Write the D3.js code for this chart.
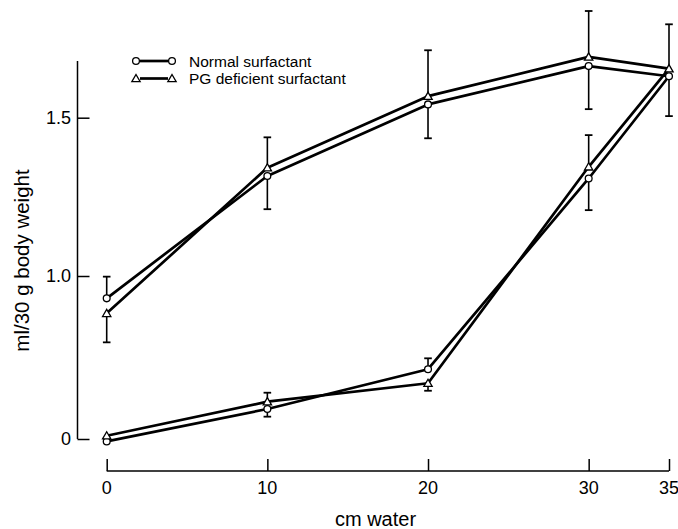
<!DOCTYPE html>
<html><head><meta charset="utf-8">
<script src="https://cdn.jsdelivr.net/npm/d3@7"></script>
<style>html,body{margin:0;padding:0;background:#fff;}svg{display:block;}</style>
</head><body>
<svg id="chart" width="678" height="529"></svg>
<script>
const pressures = [0, 10, 20, 30, 35];
const xTicks = [0, 10, 20, 30, 35];
const yTicks = [0, 1.0, 1.5];
const yTickLabels = ["0", "1.0", "1.5"];
const seriesNames = ["Normal surfactant", "PG deficient surfactant"];
// inflation limb (lower curve), by pressure
const normalInfl = [-0.015, 0.184, 0.428, 1.308, 1.631];
const pgInfl     = [0.02, 0.229, 0.342, 1.345, 1.655];
// deflation limb (upper curve), by pressure
const normalDefl = [0.863, 1.316, 1.542, 1.663, 1.631];
const pgDefl     = [0.771, 1.342, 1.568, 1.692, 1.655];
// standard errors
const normalInflErr = [0, 0.047, 0.067, 0.10, 0];
const pgInflErr     = [0, 0.055, 0.046, 0.10, 0];
const normalDeflErr = [0.133, 0.105, 0.107, 0.136, 0.126];
const pgDeflErr     = [0.178, 0.096, 0.145, 0.145, 0.14];

const svg = d3.select("#chart");
const FONT = "'Liberation Sans', Arial, Helvetica, sans-serif";
const x = d3.scaleLinear().domain([0, 35]).range([106.7, 669]);
const y = d3.scaleLinear().domain([0, 1.0, 1.5]).range([439, 276, 117.7]);

// Y axis
const yAxisX = 77.5;
svg.append("line").attr("x1", yAxisX).attr("x2", yAxisX).attr("y1", 61).attr("y2", y(0))
  .attr("stroke", "#000").attr("stroke-width", 1.5);
const yAx = d3.axisRight(y).tickValues(yTicks).tickSize(12).tickFormat((d, i) => "");
const gy = svg.append("g").attr("transform", `translate(${yAxisX},0)`).call(yAx);
gy.select(".domain").remove();
gy.selectAll(".tick line").attr("stroke", "#000").attr("stroke-width", 1.5);
yTicks.forEach((t, i) => {
  svg.append("text").attr("x", 71).attr("y", y(t)).attr("dy", "0.35em")
    .attr("text-anchor", "end").attr("font-family", FONT).attr("font-size", 18)
    .text(yTickLabels[i]);
});

// X axis
const xAxisY = 471;
const xAx = d3.axisTop(x).tickValues(xTicks).tickSize(12).tickFormat("");
const gx = svg.append("g").attr("transform", `translate(0,${xAxisY})`).call(xAx);
gx.select(".domain").remove();
gx.selectAll(".tick line").attr("stroke", "#000").attr("stroke-width", 1.5);
svg.append("line").attr("x1", x(0)).attr("x2", x(35)).attr("y1", xAxisY).attr("y2", xAxisY)
  .attr("stroke", "#000").attr("stroke-width", 1.5);
xTicks.forEach(t => {
  svg.append("text").attr("x", x(t)).attr("y", 494).attr("text-anchor", "middle")
    .attr("font-family", FONT).attr("font-size", 18).text(t);
});

// Axis titles
svg.append("text").attr("x", 375.5).attr("y", 526).attr("text-anchor", "middle")
  .attr("font-family", FONT).attr("font-size", 20).text("cm water");
svg.append("text").attr("transform", "translate(29,260.5) rotate(-90)")
  .attr("text-anchor", "middle").attr("font-family", FONT).attr("font-size", 20.5)
  .text("ml/30 g body weight");

// Series
const series = [
  { name: seriesNames[0], infl: normalInfl, defl: normalDefl, ie: normalInflErr, de: normalDeflErr, shape: "circle" },
  { name: seriesNames[1], infl: pgInfl, defl: pgDefl, ie: pgInflErr, de: pgDeflErr, shape: "triangle" }
];
const line = d3.line().x(d => x(d.p)).y(d => y(d.v));

series.forEach(s => {
  const pts = pressures.map((p, i) => ({ p, v: s.infl[i] }))
    .concat(pressures.slice(0, -1).reverse().map(p => ({ p, v: s.defl[pressures.indexOf(p)] })));
  svg.append("path").attr("d", line(pts)).attr("fill", "none")
    .attr("stroke", "#000").attr("stroke-width", 2.7).attr("stroke-linejoin", "round");
});

// Error bars (upper series gets upward bar, lower gets downward)
function errBars(limbKey, errKey) {
  pressures.forEach((p, i) => {
    series.forEach((s, si) => {
      const other = series[1 - si];
      const v = s[limbKey][i], e = s[errKey][i];
      if (!e) return;
      const sign = v >= other[limbKey][i] ? 1 : -1;
      const v2 = v + sign * e;
      const cx = x(p);
      svg.append("line").attr("x1", cx).attr("x2", cx).attr("y1", y(v)).attr("y2", y(v2))
        .attr("stroke", "#000").attr("stroke-width", 1.6);
      svg.append("line").attr("x1", cx - 3.8).attr("x2", cx + 3.8).attr("y1", y(v2)).attr("y2", y(v2))
        .attr("stroke", "#000").attr("stroke-width", 1.8);
    });
  });
}
errBars("infl", "ie");
errBars("defl", "de");

function marker(g, shape, cx, cy) {
  if (shape === "circle") {
    g.append("circle").attr("cx", cx).attr("cy", cy).attr("r", 3.4)
      .attr("fill", "#fff").attr("stroke", "#000").attr("stroke-width", 1.3);
  } else {
    const sym = d3.symbol().type(d3.symbolTriangle).size(30);
    g.append("path").attr("d", sym()).attr("transform", `translate(${cx},${cy + 0.8})`)
      .attr("fill", "#fff").attr("stroke", "#000").attr("stroke-width", 1.3);
  }
}
series.forEach(s => {
  pressures.forEach((p, i) => {
    marker(svg, s.shape, x(p), y(s.infl[i]));
    if (p !== 35) marker(svg, s.shape, x(p), y(s.defl[i]));
  });
});

// Legend
series.forEach((s, i) => {
  const ly = 61 + i * 17.5;
  svg.append("line").attr("x1", 140).attr("x2", 168).attr("y1", ly).attr("y2", ly)
    .attr("stroke", "#000").attr("stroke-width", 2.7);
  marker(svg, s.shape, 136, ly);
  marker(svg, s.shape, 172, ly);
  svg.append("text").attr("x", 189).attr("y", ly).attr("dy", "0.36em")
    .attr("font-family", FONT).attr("font-size", 15.5).text(s.name);
});
</script>
</body></html>
